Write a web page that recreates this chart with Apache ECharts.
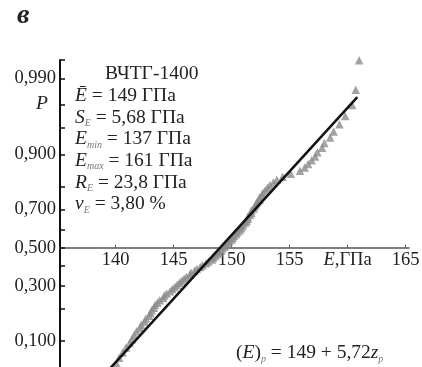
<!DOCTYPE html>
<html>
<head>
<meta charset="utf-8">
<script src="https://cdn.jsdelivr.net/npm/echarts@6/dist/echarts.min.js"></script>
<style>
  html, body { margin: 0; padding: 0; background: #fff; }
  #chart { width: 422px; height: 367px; }
</style>
</head>
<body>
<div id="chart"></div>
<script>
// x axis (E, GPa)
const xTicks = [140, 145, 150, 155, 160, 165]
// y axis is the normal quantile z; labels show probability P
const yTickZ = [-1.2816, -0.8416, -0.5244, -0.2533, 0, 0.2533, 0.5244, 0.8416, 1.2816, 1.6449, 1.96, 2.3263, 2.58]
const yLabelZ = [2.3263, 1.2816, 0.5244, 0, -0.5244, -1.2816]
const yLabelText = ['0,990', '0,900', '0,700', '0,500', '0,300', '0,100']

// measured points (z position, modulus E)
const pointZ = [
  -2.5758, -2.1701, -1.9600, -1.8119, -1.6954, -1.5982, -1.5141, -1.4395, -1.3722, -1.3106,
  -1.2536, -1.2004, -1.1503, -1.1031, -1.0581, -1.0152, -0.9741, -0.9346, -0.8965, -0.8596,
  -0.8239, -0.7892, -0.7554, -0.7225, -0.6903, -0.6588, -0.6280, -0.5978, -0.5681, -0.5388,
  -0.5101, -0.4817, -0.4538, -0.4261, -0.3989, -0.3719, -0.3451, -0.3186, -0.2924, -0.2663,
  -0.2404, -0.2147, -0.1891, -0.1637, -0.1383, -0.1130, -0.0878, -0.0627, -0.0376, -0.0125,
  0.0125, 0.0376, 0.0627, 0.0878, 0.1130, 0.1383, 0.1637, 0.1891, 0.2147, 0.2404,
  0.2663, 0.2924, 0.3186, 0.3451, 0.3719, 0.3989, 0.4261, 0.4538, 0.4817, 0.5101,
  0.5388, 0.5681, 0.5978, 0.6280, 0.6588, 0.6903, 0.7225, 0.7554, 0.7892, 0.8239,
  0.8596, 0.8965, 0.9346, 0.9741, 1.0152, 1.0581, 1.1031, 1.1503, 1.2004, 1.2536,
  1.3106, 1.3722, 1.4395, 1.5141, 1.5982, 1.6954, 1.8119, 1.9600, 2.1701, 2.5758
]
const pointE = [
  137.0, 138.2, 139.0, 139.6, 140.0, 140.1, 140.3, 140.6, 140.9, 141.2,
  141.4, 141.6, 141.8, 142.1, 142.2, 142.5, 142.6, 142.9, 143.0, 143.1,
  143.3, 143.4, 143.6, 143.8, 144.1, 144.2, 144.4, 144.7, 144.9, 145.1,
  145.3, 145.5, 145.7, 145.9, 146.1, 146.4, 146.5, 146.8, 147.0, 147.3,
  147.5, 147.8, 148.0, 148.3, 148.4, 148.6, 148.8, 148.9, 149.1, 149.2,
  149.4, 149.5, 149.7, 149.8, 150.0, 150.1, 150.2, 150.4, 150.5, 150.7,
  150.8, 150.9, 151.0, 151.2, 151.3, 151.4, 151.4, 151.6, 151.7, 151.7,
  151.9, 152.0, 152.1, 152.2, 152.4, 152.4, 152.6, 152.7, 152.9, 153.1,
  153.3, 153.6, 153.9, 154.4, 155.1, 155.9, 156.3, 156.6, 156.9, 157.2,
  157.4, 157.8, 158.0, 158.5, 158.8, 159.3, 159.8, 160.4, 160.7, 161.0
]

// fitted line (E)p = 149 + 5,72 zp, end points
const fitE = [139.0, 160.84]
const fitZ = [-1.75, 2.07]

const SERIF = '"Liberation Serif", "DejaVu Serif", serif'
const TXT = '#222'

const myChart = echarts.init(document.getElementById('chart'))

const rich = {
  n: { fontSize: 19.5, fontFamily: SERIF, fill: TXT, color: TXT, lineHeight: 22 },
  i: { fontSize: 19.5, fontFamily: SERIF, fontStyle: 'italic', fill: TXT, color: TXT, lineHeight: 22 },
  s: { fontSize: 10, fontFamily: SERIF, fontStyle: 'italic', fill: '#777', color: '#777', lineHeight: 10, verticalAlign: 'bottom' }
}

function label(text, x, y, extra) {
  return {
    type: 'text',
    left: x,
    top: y,
    style: Object.assign({
      text: text,
      rich: rich,
      fontSize: 19.5,
      fontFamily: SERIF,
      fill: TXT
    }, extra || {})
  }
}

const infoLines = [
  '{n|ВЧТГ-1400}',
  '{i|Ē}{n| = 149 ГПа}',
  '{i|S}{s|E}{n| = 5,68 ГПа}',
  '{i|E}{s|min}{n| = 137 ГПа}',
  '{i|E}{s|max}{n| = 161 ГПа}',
  '{i|R}{s|E}{n| = 23,8 ГПа}',
  '{i|v}{s|E}{n| = 3,80 %}'
]

const graphic = [
  label('в', 17, 2, { fontWeight: 'bold', fontStyle: 'italic', fontSize: 28 }),
  label('P', 36, 94, { fontStyle: 'italic' }),
  label('{n|(}{i|E}{n|)}{s|p}{n| = 149 + 5,72}{i|z}{s|p}', 236, 343)
]
infoLines.forEach((t, k) => {
  graphic.push(label(t, k === 0 ? 105 : 75, 64 + k * 21.7))
})

const option = {
  animation: false,
  grid: { left: 60, right: 13, top: 60, bottom: 0, outerBoundsMode: 'none', containLabel: false },
  xAxis: {
    type: 'value',
    min: 135.2,
    max: 165.3,
    position: 'bottom',
    offset: -119.3,
    axisLine: { onZero: false, lineStyle: { color: '#555', width: 1.5 } },
    axisTick: { customValues: xTicks, inside: true, length: 3, lineStyle: { color: '#555' } },
    axisLabel: {
      customValues: xTicks,
      margin: 3,
      fontSize: 18.5,
      fontFamily: SERIF,
      color: TXT,
      formatter: (v) => v === 160 ? '{i|E},ГПа' : String(v),
      rich: {
        i: { fontSize: 18.5, fontFamily: SERIF, fontStyle: 'italic', color: TXT }
      }
    },
    splitLine: { show: false }
  },
  yAxis: {
    type: 'value',
    min: -1.64,
    max: 2.58,
    axisLine: { show: true, lineStyle: { color: '#111', width: 2 } },
    axisTick: { show: true, customValues: yTickZ, inside: true, length: 5, lineStyle: { color: '#111', width: 1.5 } },
    axisLabel: {
      customValues: yLabelZ,
      margin: 4,
      fontSize: 18.5,
      fontFamily: SERIF,
      color: TXT,
      formatter: (v) => {
        const k = yLabelZ.findIndex(z => Math.abs(z - v) < 1e-6)
        return k >= 0 ? yLabelText[k] : ''
      }
    },
    splitLine: { show: false }
  },
  series: [
    {
      type: 'scatter',
      symbol: 'triangle',
      symbolSize: 8.5,
      itemStyle: { color: '#8c8c8c' },
      clip: true,
      data: pointE.map((e, k) => [e, pointZ[k]])
    },
    {
      type: 'line',
      symbol: 'none',
      clip: true,
      lineStyle: { color: '#111', width: 2.5 },
      data: fitE.map((e, k) => [e, fitZ[k]])
    }
  ],
  graphic: graphic
}

myChart.setOption(option)
</script>
</body>
</html>
